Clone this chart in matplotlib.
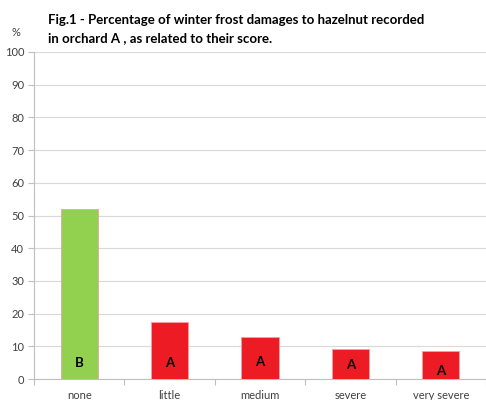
import matplotlib
matplotlib.use('Agg')
import matplotlib.pyplot as plt
import numpy as np

# data
categories = ['none', 'little', 'medium', 'severe', 'very severe']
damage_pct = [52.0, 17.3, 12.9, 9.1, 8.7]
letters = ['B', 'A', 'A', 'A', 'A']
letter_y = [4.9, 4.9, 5.1, 4.3, 2.4]
bar_colors = ['#92D050', '#ED1C24', '#ED1C24', '#ED1C24', '#ED1C24']

plt.rcParams['font.family'] = ['Lato', 'DejaVu Sans']

fig = plt.figure(figsize=(4.86, 4.0), dpi=100)
ax = fig.add_axes([34 / 486, 21 / 400, 452 / 486, 327 / 400])

x = np.arange(len(categories))
ax.bar(x, damage_pct, width=0.41, color=bar_colors, edgecolor='#F4A0A0',
       linewidth=0.6, zorder=3)
for xi, lab, ly in zip(x, letters, letter_y):
    ax.text(xi, ly, lab, ha='center', va='center', fontsize=9.5,
            fontweight='bold', color='black', zorder=4)

ax.set_xlim(-0.5, len(categories) - 0.5)
ax.set_ylim(0, 100)
ax.set_yticks(range(0, 101, 10))
ax.grid(axis='y', color='#D9D9D9', linewidth=0.8, zorder=0)

ax.set_xticks(x)
ax.set_xticklabels(categories)
ax.set_xticks(np.arange(-0.5, len(categories), 1), minor=True)
ax.tick_params(axis='x', which='major', length=0, pad=8, labelsize=8,
               colors='#404040')
ax.tick_params(axis='x', which='minor', length=4, color='#BFBFBF', width=0.8)
ax.tick_params(axis='y', length=4, color='#BFBFBF', width=0.8, labelsize=8,
               labelcolor='#404040', pad=3)

for s in ['top', 'right']:
    ax.spines[s].set_visible(False)
for s in ['left', 'bottom']:
    ax.spines[s].set_color('#BFBFBF')
    ax.spines[s].set_linewidth(0.8)

fig.text(48 / 486, 1 - 20 / 400,
         'Fig.1 - Percentage of winter frost damages to hazelnut recorded',
         fontsize=9.5, fontweight='bold', va='center', ha='left')
fig.text(48 / 486, 1 - 38 / 400,
         'in orchard A , as related to their score.',
         fontsize=9.5, fontweight='bold', va='center', ha='left')
fig.text(16 / 486, 1 - 33 / 400, '%', fontsize=8, color='#404040',
         va='center', ha='center')

fig.savefig('out.png', dpi=100)
